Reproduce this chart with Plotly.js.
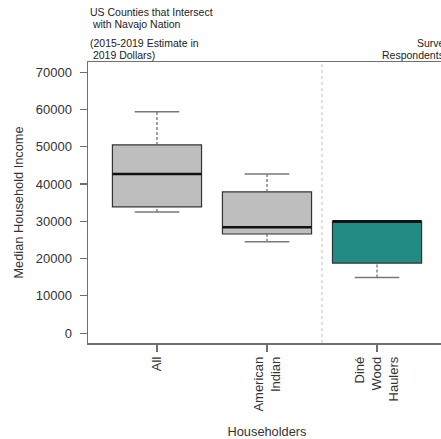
<!DOCTYPE html>
<html>
<head>
<meta charset="utf-8">
<script src="https://cdn.plot.ly/plotly-3.0.1.min.js"></script>
<style>
html,body{margin:0;padding:0;overflow:hidden;background:#fff;}
#chart{width:480px;height:439px;}
</style>
</head>
<body>
<div id="chart"></div>
<script>
// ---- data ----
const categories = ['All', 'American<br>Indian', 'Diné<br>Wood<br>Haulers'];
const lowerWhisker = [32500, 24500, 14900];
const q1Values     = [33900, 26600, 18800];
const medianValues = [42700, 28400, 30000];
const q3Values     = [50500, 37900, 30000];
const upperWhisker = [59400, 42700, 30000];
const boxColors    = ['#bebebe', '#bebebe', '#228b83'];
const yTickValues  = [0, 10000, 20000, 30000, 40000, 50000, 60000, 70000];
const yTickLabels  = ['0', '10000', '20000', '30000', '40000', '50000', '60000', '70000'];

// ---- styling constants ----
const BOX_W = 0.81;
const CAP_W = BOX_W / 2;
const FONT = 'Liberation Sans, Arial, sans-serif';
const FRAME = '#707070';

const positions = categories.map((c, i) => i + 1);
const traces = [];

// boxes
positions.forEach((p, i) => {
  traces.push({
    type: 'box', x: [p],
    q1: [q1Values[i]], median: [medianValues[i]], q3: [q3Values[i]],
    lowerfence: [q1Values[i]], upperfence: [q3Values[i]],
    width: BOX_W, whiskerwidth: 0, boxpoints: false,
    fillcolor: boxColors[i], line: {color: '#333', width: 1.2},
    hoverinfo: 'skip', showlegend: false
  });
});

// whiskers (dashed)
const wx = [], wy = [];
positions.forEach((p, i) => {
  wx.push(p, p, null, p, p, null);
  wy.push(q3Values[i], upperWhisker[i], null, lowerWhisker[i], q1Values[i], null);
});
traces.push({type: 'scatter', mode: 'lines', x: wx, y: wy,
  line: {color: '#666', width: 1.2, dash: '3px,2px'}, hoverinfo: 'skip', showlegend: false});

// caps
const cx = [], cy = [];
positions.forEach((p, i) => {
  cx.push(p - CAP_W / 2, p + CAP_W / 2, null, p - CAP_W / 2, p + CAP_W / 2, null);
  cy.push(upperWhisker[i], upperWhisker[i], null, lowerWhisker[i], lowerWhisker[i], null);
});
traces.push({type: 'scatter', mode: 'lines', x: cx, y: cy,
  line: {color: '#777', width: 1.5}, hoverinfo: 'skip', showlegend: false});

// medians
const mx = [], my = [];
positions.forEach((p, i) => {
  mx.push(p - BOX_W / 2, p + BOX_W / 2, null);
  my.push(medianValues[i], medianValues[i], null);
});
traces.push({type: 'scatter', mode: 'lines', x: mx, y: my,
  line: {color: '#111', width: 2.6}, hoverinfo: 'skip', showlegend: false});

const dividerX = categories.length - 0.5;

const annFont = {family: FONT, size: 10.5, color: '#222'};
function ann(text, x, xanchor, yTop, xshift) {
  return {text: text, xref: 'paper', yref: 'paper', x: x, y: 1, xanchor: xanchor,
    yanchor: 'middle', yshift: 62 - yTop, xshift: xshift || 0, showarrow: false, font: annFont};
}

const layout = {
  width: 480, height: 439,
  margin: {l: 88, r: 34, t: 62, b: 96},
  paper_bgcolor: '#fff', plot_bgcolor: '#fff',
  font: {family: FONT, color: '#333', size: 13},
  showlegend: false,
  xaxis: {
    range: [0.373, 3.627], tickmode: 'array', tickvals: positions, ticktext: categories,
    tickangle: -90, ticks: 'outside', ticklen: 7, tickcolor: FRAME, tickwidth: 1.2,
    showline: true, mirror: true, linecolor: FRAME, linewidth: 1.5,
    showgrid: false, zeroline: false, tickfont: {size: 13, color: '#333'},
    title: {text: 'Householders', font: {size: 12.8, color: '#333'}, standoff: 16}
  },
  yaxis: {
    range: [-2650, 72760], tickmode: 'array', tickvals: yTickValues, ticktext: yTickLabels,
    ticks: 'outside', ticklen: 7, tickcolor: FRAME, tickwidth: 1.2, ticklabelstandoff: 5,
    showline: true, mirror: true, linecolor: FRAME, linewidth: 1.5,
    showgrid: false, zeroline: false, tickfont: {size: 13, color: '#333'},
    title: {text: 'Median Household Income', font: {size: 12.8, color: '#333'}, standoff: 9}
  },
  shapes: [{type: 'line', xref: 'x', yref: 'paper', x0: dividerX, x1: dividerX, y0: 0, y1: 1,
    line: {color: '#cfcfcf', width: 1.3, dash: 'dot'}}],
  annotations: [
    ann('US Counties that Intersect', 0, 'left', 11.5),
    ann('\u00a0with Navajo Nation', 0, 'left', 23.5),
    ann('(2015-2019 Estimate in', 0, 'left', 43),
    ann('\u00a02019 Dollars)', 0, 'left', 54.5),
    ann('Survey', 1, 'right', 43, 6),
    ann('Respondents', 1, 'right', 54.5)
  ]
};

Plotly.newPlot('chart', traces, layout, {displayModeBar: false, staticPlot: true});
</script>
</body>
</html>
